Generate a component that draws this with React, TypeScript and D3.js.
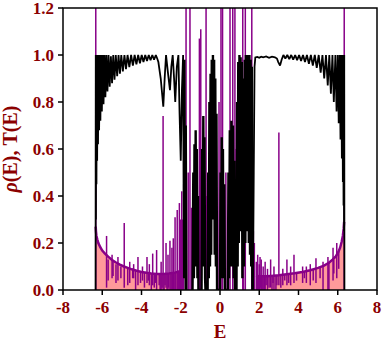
import React from 'react';
import * as d3 from 'd3';

const xTicks = [-8, -6, -4, -2, 0, 2, 4, 6, 8];
const yTicks = [0, 0.2, 0.4, 0.6, 0.8, 1.0, 1.2];

type P = [number, number];

// Transmission T(E): left band
const tLeft: P[] = [
  [-6.36, 0], [-6.34, 0], [-6.335, 0.5], [-6.33, 1.0], [-6.32, 0.3], [-6.31, 1.0], [-6.295, 0.45], [-6.28, 1.0],
  [-6.26, 0.55], [-6.24, 1.0], [-6.215, 0.62], [-6.19, 1.0], [-6.16, 0.68], [-6.13, 1.0], [-6.095, 0.72], [-6.06, 1.0],
  [-6.02, 0.76], [-5.98, 1.0], [-5.935, 0.79], [-5.89, 1.0], [-5.84, 0.82], [-5.79, 1.0], [-5.735, 0.845], [-5.68, 1.0],
  [-5.62, 0.865], [-5.56, 0.995], [-5.5, 0.88], [-5.44, 1.0], [-5.375, 0.895], [-5.31, 1.0], [-5.24, 0.91], [-5.17, 1.0],
  [-5.1, 0.92], [-5.03, 1.0], [-4.95, 0.93], [-4.87, 1.0], [-4.79, 0.94], [-4.71, 1.0], [-4.62, 0.948], [-4.53, 1.0],
  [-4.44, 0.955], [-4.35, 1.0], [-4.26, 0.96], [-4.17, 1.0], [-4.08, 0.965], [-3.99, 1.0], [-3.9, 0.97], [-3.81, 1.0],
  [-3.72, 0.975], [-3.63, 1.0], [-3.54, 0.978], [-3.45, 1.0], [-3.36, 0.98], [-3.27, 1.0], [-3.2, 0.985], [-3.14, 0.97],
  [-3.02, 0.9], [-2.89, 0.78], [-2.82, 0.9], [-2.75, 1.0], [-2.66, 0.93], [-2.55, 0.85], [-2.48, 0.95], [-2.41, 1.0],
  [-2.34, 0.9], [-2.28, 0.8], [-2.2, 0.95], [-2.12, 1.0], [-2.06, 0.75], [-2.0, 0.55], [-1.94, 0.85], [-1.88, 1.0],
  [-1.84, 0.05], [-1.8, 0.98], [-1.76, 0.0], [-1.73, 0.7], [-1.7, 0.0], [-1.66, 0],
];

// Transmission T(E): central mini-bands
const tMid: P[] = [
  [-1.4, 0], [-1.36, 0.5], [-1.33, 0.05], [-1.3, 0.62], [-1.27, 0.1], [-1.24, 0.68], [-1.21, 0.1], [-1.18, 0.6],
  [-1.15, 0.05], [-1.12, 0.4], [-1.1, 0],
  [-0.94, 0], [-0.91, 0.6], [-0.88, 0.1], [-0.85, 0.74], [-0.82, 0.15], [-0.79, 0.65], [-0.76, 0.05], [-0.74, 0],
  [-0.63, 0], [-0.6, 0.5], [-0.57, 0.05], [-0.54, 0.8], [-0.51, 0.1], [-0.48, 0.92], [-0.45, 0.15], [-0.42, 0.98],
  [-0.39, 0.3], [-0.36, 1.0], [-0.33, 0.3], [-0.3, 0.98], [-0.27, 0.15], [-0.24, 0.9], [-0.21, 0.1], [-0.18, 0.75],
  [-0.15, 0.0], [-0.12, 0],
  [0.0, 0], [0.03, 0.5], [0.06, 0.05], [0.09, 0.65], [0.12, 0.1], [0.15, 0.6], [0.18, 0.05], [0.22, 0.45], [0.25, 0],
  [0.4, 0], [0.43, 0.5], [0.46, 0.05], [0.5, 0.68], [0.54, 0.1], [0.58, 0.72], [0.62, 0.1], [0.66, 0.7], [0.7, 0.05],
  [0.73, 0.55], [0.76, 0],
  [0.84, 0], [0.87, 0.8], [0.9, 0.1], [0.93, 0.97], [0.96, 0.2], [0.99, 1.0], [1.02, 0.3], [1.05, 0.99], [1.08, 0.25],
  [1.11, 0.97], [1.14, 0.05], [1.18, 0.9], [1.22, 0.1], [1.26, 0.98], [1.29, 0.2], [1.32, 1.0], [1.35, 0.3], [1.38, 1.0],
  [1.41, 0.25], [1.44, 0.99], [1.47, 0.2], [1.5, 1.0], [1.53, 0.15], [1.56, 0.98], [1.59, 0.1], [1.62, 0.95], [1.65, 0.0],
];

// Transmission T(E): right band
const tRight: P[] = [
  [1.65, 0], [1.68, 0], [1.72, 0.5], [1.76, 0.95], [1.8, 0.99], [1.9, 0.992], [2.0, 0.988], [2.1, 0.993], [2.2, 0.99],
  [2.35, 0.994], [2.5, 0.988], [2.65, 0.993], [2.8, 0.99], [2.9, 0.985], [2.97, 0.97], [3.06, 0.955], [3.14, 0.98],
  [3.23, 1.0], [3.33, 0.985], [3.43, 1.0], [3.53, 0.982], [3.63, 1.0], [3.73, 0.98], [3.83, 1.0], [3.93, 0.978],
  [4.03, 1.0], [4.13, 0.975], [4.23, 1.0], [4.33, 0.97], [4.43, 1.0], [4.53, 0.962], [4.63, 1.0], [4.73, 0.955],
  [4.83, 1.0], [4.93, 0.945], [5.03, 1.0], [5.13, 0.925], [5.22, 1.0], [5.31, 0.9], [5.4, 1.0], [5.49, 0.87],
  [5.57, 1.0], [5.65, 0.835], [5.73, 1.0], [5.8, 0.8], [5.88, 1.0], [5.94, 0.76], [6.0, 1.0], [6.05, 0.71],
  [6.1, 1.0], [6.14, 0.64], [6.18, 1.0], [6.21, 0.56], [6.24, 1.0], [6.26, 0.46], [6.28, 1.0], [6.295, 0.36],
  [6.31, 1.0], [6.32, 0.25], [6.33, 1.0], [6.34, 0.0], [6.36, 0],
];

// Smooth DOS rho(E) baseline (left and right bands)
const rhoLeft: P[] = [
  [-6.34, 0], [-6.335, 0.27], [-6.32, 0.25], [-6.3, 0.232], [-6.25, 0.215], [-6.2, 0.2], [-6.1, 0.182], [-6.0, 0.168],
  [-5.86, 0.155], [-5.7, 0.142], [-5.5, 0.128], [-5.3, 0.117], [-5.1, 0.108], [-4.9, 0.1], [-4.7, 0.094], [-4.5, 0.088],
  [-4.25, 0.082], [-4.0, 0.077], [-3.75, 0.073], [-3.5, 0.07], [-3.2, 0.068], [-2.9, 0.068], [-2.6, 0.07], [-2.3, 0.074],
  [-2.05, 0.08], [-1.88, 0.085], [-1.86, 0],
];
const rhoRight: P[] = [
  [1.82, 0], [1.84, 0.062], [2.0, 0.058], [2.3, 0.058], [2.6, 0.06], [3.0, 0.063], [3.4, 0.067], [3.8, 0.071],
  [4.2, 0.077], [4.6, 0.084], [5.0, 0.094], [5.3, 0.104], [5.55, 0.116], [5.75, 0.13], [5.9, 0.143], [6.02, 0.16],
  [6.12, 0.18], [6.2, 0.205], [6.26, 0.23], [6.3, 0.26], [6.325, 0.29], [6.34, 0],
];

// rho(E) spikes: [E, low, high]
const rhoSpikes: [number, number, number][] = [
  [-6.33, 0, 1.3], [-5.78, 0.01, 0.23], [-4.88, 0.01, 0.285], [-4.18, 0.02, 0.14], [-3.72, 0.03, 0.14],
  [-3.43, 0.02, 0.155], [-3.23, 0, 0.17], [-2.9, 0, 0.74], [-2.75, 0.01, 0.2], [-2.55, 0, 0.21], [-2.29, 0, 0.31],
  [-2.18, 0, 0.34], [-2.07, 0, 0.37],
  [-5.5, 0.05, 0.15], [-5.2, 0.04, 0.14], [-4.6, 0.03, 0.12], [-4.4, 0.05, 0.11], [-3.95, 0.04, 0.1], [-3.6, 0.02, 0.11],
  [-3.0, 0, 0.12], [-2.65, 0, 0.15], [-2.45, 0, 0.18], [-2.38, 0, 0.22], [-2.0, 0, 0.3], [-1.95, 0, 0.42], [-1.91, 0, 0.3],
  [-5.7, 0.04, 0.13], [-5.45, 0.06, 0.12], [-5.3, 0.03, 0.11], [-5.05, 0.05, 0.1], [-4.7, 0.02, 0.095], [-4.45, 0.05, 0.09],
  [-4.3, 0, 0.085], [-4.05, 0.03, 0.08], [-3.85, 0.01, 0.076], [-3.65, 0.04, 0.074], [-3.5, 0, 0.072], [-3.35, 0.01, 0.07],
  [-3.28, 0.03, 0.07], [-3.1, 0.02, 0.07], [-3.05, 0, 0.068], [-2.95, 0.01, 0.07], [-2.85, 0, 0.07], [-2.8, 0.02, 0.07],
  [-2.7, 0, 0.072], [-2.62, 0.01, 0.072], [-2.5, 0, 0.074], [-2.42, 0, 0.075], [-2.34, 0, 0.076], [-2.25, 0, 0.078],
  [-2.14, 0, 0.08], [-2.1, 0, 0.08], [-2.03, 0, 0.082], [-1.98, 0, 0.085],
  [-1.73, 0, 1.3], [-1.53, 0, 1.3], [-1.05, 0, 1.07], [-0.98, 0, 1.11], [-0.71, 0, 1.3], [0.05, 0, 1.3], [0.13, 0, 1.3],
  [0.51, 0, 1.3], [0.65, 0, 1.3], [0.76, 0, 1.3], [1.16, 0, 1.3], [1.29, 0, 1.3], [1.62, 0, 1.3],
  [-1.85, 0, 0.45], [-1.62, 0, 0.5], [-1.45, 0, 0.35], [-1.08, 0, 0.3], [-0.67, 0, 0.4], [-0.05, 0, 0.8], [0.3, 0, 0.5],
  [0.82, 0, 0.6], [1.2, 0, 0.5], [1.7, 0, 0.25], [1.75, 0, 0.2],
  [6.33, 0, 1.3], [2.04, 0, 0.14], [2.58, 0.01, 0.13], [3.0, 0.02, 0.67], [3.41, 0.02, 0.13], [3.77, 0.03, 0.15],
  [4.21, 0.03, 0.1], [4.89, 0.03, 0.135], [5.25, 0, 0.12], [5.76, 0.04, 0.18],
  [1.85, 0, 0.12], [1.92, 0, 0.15], [2.0, 0, 0.11], [2.1, 0, 0.13], [2.2, 0, 0.1], [2.3, 0, 0.12], [2.42, 0, 0.09],
  [2.75, 0, 0.1], [3.2, 0.02, 0.09], [3.6, 0.02, 0.1], [4.4, 0.03, 0.1], [4.6, 0.02, 0.11], [5.5, 0, 0.14], [5.95, 0.05, 0.2],
  [1.88, 0, 0.06], [1.96, 0, 0.06], [2.06, 0.01, 0.06], [2.15, 0, 0.06], [2.26, 0, 0.06], [2.35, 0.02, 0.06],
  [2.5, 0.01, 0.06], [2.65, 0, 0.062], [2.7, 0.03, 0.062], [2.85, 0, 0.063], [2.9, 0.02, 0.064], [3.1, 0.01, 0.065],
  [3.3, 0.04, 0.066], [3.5, 0.03, 0.068], [3.9, 0.04, 0.072], [4.3, 0.05, 0.078], [4.75, 0.04, 0.087], [5.1, 0.05, 0.097],
  [5.55, 0, 0.115], [5.8, 0.07, 0.13], [6.05, 0.09, 0.165],
];

const RED = '#8b0000';
const PURPLE = '#880088';
const PINK = '#ff9a9a';

export default function App() {
  const W = 382, H = 343;
  const L = 63, R = 377, T = 8, B = 290;
  const x = d3.scaleLinear().domain([-8, 8]).range([L, R]);
  const y = d3.scaleLinear().domain([0, 1.2]).range([B, T]);
  const line = d3.line<P>().x(d => x(d[0])).y(d => y(d[1]));
  const area = d3.area<P>().x(d => x(d[0])).y0(y(0)).y1(d => y(d[1]));
  const font = "'Liberation Serif', 'Times New Roman', serif";

  return (
    <svg width={W} height={H} style={{ position: 'absolute', left: 0, top: 0, background: '#fff' }}>
      <defs>
        <clipPath id="plot">
          <rect x={L} y={T} width={R - L} height={B - T} />
        </clipPath>
      </defs>
      <g clipPath="url(#plot)">
        <path d={area(rhoLeft) || ''} fill={PINK} />
        <path d={area(rhoRight) || ''} fill={PINK} />
        <path d={line(rhoLeft.slice(1, -1)) || ''} fill="none" stroke={PURPLE} strokeWidth={2.5} />
        <path d={line(rhoRight.slice(1, -1)) || ''} fill="none" stroke={PURPLE} strokeWidth={2.5} />
        {rhoSpikes.map((s, i) => (
          <line key={i} x1={x(s[0])} x2={x(s[0])} y1={y(s[1])} y2={y(s[2])} stroke={PURPLE} strokeWidth={1.5} />
        ))}
        <path d={line(tLeft) || ''} fill="none" stroke="#000" strokeWidth={1.8} strokeLinejoin="miter" strokeMiterlimit={2} />
        <path d={line(tMid) || ''} fill="none" stroke="#000" strokeWidth={2.4} strokeLinejoin="miter" strokeMiterlimit={2} />
        <path d={line(tRight) || ''} fill="none" stroke="#000" strokeWidth={1.8} strokeLinejoin="miter" strokeMiterlimit={2} />
      </g>
      <rect x={L} y={T} width={R - L} height={B - T} fill="none" stroke="#000" strokeWidth={1.5} />
      {xTicks.map(t => (
        <g key={'x' + t}>
          <line x1={x(t)} x2={x(t)} y1={B} y2={B + 5} stroke="#000" strokeWidth={1.5} />
          <text x={x(t)} y={313} textAnchor="middle" fontFamily={font} fontWeight="bold" fontSize={17} fill={RED}>{String(t)}</text>
        </g>
      ))}
      {yTicks.map(t => (
        <g key={'y' + t}>
          <line x1={L - 5} x2={L} y1={y(t)} y2={y(t)} stroke="#000" strokeWidth={1.5} />
          <text x={54} y={y(t)} dy="0.35em" textAnchor="end" fontFamily={font} fontWeight="bold" fontSize={17} fill={RED}>{t.toFixed(1)}</text>
        </g>
      ))}
      <text x={220} y={338} textAnchor="middle" fontFamily={font} fontWeight="bold" fontSize={19} fill={RED}>E</text>
      <text transform={`translate(17,${(T + B) / 2}) rotate(-90)`} textAnchor="middle" fontFamily={font} fontWeight="bold" fontSize={20} fill={RED}>
        <tspan fontStyle="italic">ρ</tspan>(E), T(E)
      </text>
    </svg>
  );
}
